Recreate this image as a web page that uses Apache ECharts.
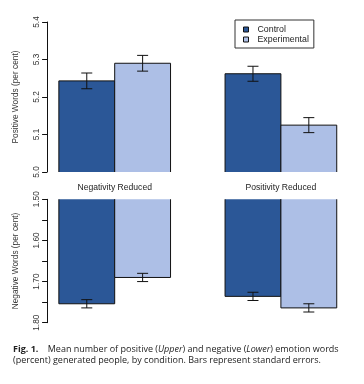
<!DOCTYPE html>
<html><head><meta charset="utf-8">
<script src="https://cdn.jsdelivr.net/npm/echarts@6/dist/echarts.min.js"></script>
<style>html,body{margin:0;padding:0;background:#fff}#c{width:364px;height:384px}</style>
</head><body><div id="c"></div>
<script>
const categories = ['Negativity Reduced', 'Positivity Reduced'];
const seriesNames = ['Control', 'Experimental'];
const posControl = [5.243, 5.262];
const posExperimental = [5.290, 5.125];
const posErr = [[0.021, 0.020], [0.021, 0.020]];
const negControl = [1.754, 1.736];
const negExperimental = [1.690, 1.764];
const negErr = [[0.010, 0.010], [0.010, 0.010]];
const posTicks = [5.0, 5.4, 0.1];
const negTicks = [1.5, 1.8, 0.05];

const colors = ['#2B5797', '#ADBFE6'];
const chart = echarts.init(document.getElementById('c'));
const font = 'Liberation Sans, Arial, sans-serif';
const GAP = 0.328;

function xCenter(api, ci, seriesIdx, y) {
  const c = api.coord([ci, y]);
  const bw = api.size([1, 0])[0];
  const groupW = bw * (1 - GAP);
  const barW = groupW / 2;
  return { x: c[0] - groupW / 2 + barW * seriesIdx + barW / 2, w: barW };
}

function barSeries(name, gi, means, seriesIdx, color, base) {
  return {
    name: name, type: 'custom', xAxisIndex: gi, yAxisIndex: gi, clip: true,
    itemStyle: { color: color, borderColor: '#111', borderWidth: 1 },
    data: means.map((m, i) => [i, m]),
    renderItem: function (params, api) {
      const ci = api.value(0), m = api.value(1);
      const p = xCenter(api, ci, seriesIdx, m);
      const yv = api.coord([ci, m])[1];
      const yb = api.coord([ci, base])[1];
      const top = Math.min(yv, yb), h = Math.abs(yb - yv);
      return { type: 'rect', shape: { x: p.x - p.w / 2, y: top, width: p.w, height: h },
        style: { fill: color, stroke: '#111', lineWidth: 1 } };
    }
  };
}

function errSeries(gi, means, errs, seriesIdx) {
  return {
    type: 'custom', xAxisIndex: gi, yAxisIndex: gi, z: 10, silent: true,
    data: means.map((m, i) => [i, m, errs[i]]),
    renderItem: function (params, api) {
      const ci = api.value(0), m = api.value(1), e = api.value(2);
      const x = xCenter(api, ci, seriesIdx, m).x;
      const y1 = api.coord([ci, m - e])[1];
      const y2 = api.coord([ci, m + e])[1];
      const cap = 5.5;
      const st = { stroke: '#111', lineWidth: 1 };
      return { type: 'group', children: [
        { type: 'line', shape: { x1: x, y1: y1, x2: x, y2: y2 }, style: st },
        { type: 'line', shape: { x1: x - cap, y1: y1, x2: x + cap, y2: y1 }, style: st },
        { type: 'line', shape: { x1: x - cap, y1: y2, x2: x + cap, y2: y2 }, style: st }
      ]};
    }
  };
}

const yCommon = {
  type: 'value', offset: -15.5,
  axisLine: { show: true, lineStyle: { color: '#111', width: 1 } },
  axisTick: { show: true, inside: false, length: 5, lineStyle: { color: '#111' } },
  splitLine: { show: false },
  nameLocation: 'middle',
  nameTextStyle: { fontFamily: font, fontSize: 8.3, color: '#333' },
  axisLabel: { rotate: 90, fontFamily: font, fontSize: 8.3, color: '#333', margin: 6 }
};

chart.setOption({
  animation: false,
  textStyle: { fontFamily: font },
  grid: [
    { left: 31.6, width: 333.6, top: 22, height: 150 },
    { left: 31.6, width: 333.6, top: 199.3, height: 123.4 }
  ],
  legend: {
    data: seriesNames, orient: 'vertical', left: 235, top: 20,
    borderColor: '#333', borderWidth: 1, padding: [5, 5, 4, 8],
    itemWidth: 5, itemHeight: 5, itemGap: 1, icon: 'rect',
    itemStyle: { borderColor: '#111', borderWidth: 1 },
    textStyle: { fontFamily: font, fontSize: 8.8, color: '#222', padding: [0, 0, 0, 4] }
  },
  xAxis: [
    { type: 'category', gridIndex: 0, data: categories, axisLine: { show: false }, axisTick: { show: false },
      axisLabel: { fontFamily: font, fontSize: 8.6, color: '#222', margin: 11 } },
    { type: 'category', gridIndex: 1, data: categories, axisLine: { show: false }, axisTick: { show: false },
      axisLabel: { show: false } }
  ],
  yAxis: [
    Object.assign({}, yCommon, { gridIndex: 0, min: posTicks[0], max: posTicks[1], interval: posTicks[2],
      name: 'Positive Words (per cent)', nameGap: 27,
      axisLabel: Object.assign({}, yCommon.axisLabel, { formatter: v => v.toFixed(1) }) }),
    Object.assign({}, yCommon, { gridIndex: 1, min: negTicks[0], max: negTicks[1], interval: negTicks[2], inverse: true,
      name: 'Negative Words (per cent)', nameGap: 27,
      axisLabel: Object.assign({}, yCommon.axisLabel, { formatter: v => (Math.round(v * 100) % 10 === 0 ? v.toFixed(2) : '') }) })
  ],
  series: [
    barSeries('Control', 0, posControl, 0, colors[0], 4.9),
    barSeries('Experimental', 0, posExperimental, 1, colors[1], 4.9),
    barSeries('Control', 1, negControl, 0, colors[0], 1.4),
    barSeries('Experimental', 1, negExperimental, 1, colors[1], 1.4),
    errSeries(0, posControl, posErr[0], 0),
    errSeries(0, posExperimental, posErr[1], 1),
    errSeries(1, negControl, negErr[0], 0),
    errSeries(1, negExperimental, negErr[1], 1)
  ],
  graphic: [{
    type: 'text', left: 13, top: 343.5,
    style: {
      text: '{b|Fig. 1.}    Mean number of positive ({i|Upper}) and negative ({i|Lower}) emotion words\n(percent) generated people, by condition. Bars represent standard errors.',
      font: '9px "Open Sans", sans-serif', fill: '#222', lineHeight: 11,
      rich: {
        b: { fontWeight: 'bold', fontSize: 9, fontFamily: 'Open Sans', fill: '#222', lineHeight: 11 },
        i: { fontStyle: 'italic', fontSize: 9, fontFamily: 'Open Sans', fill: '#222', lineHeight: 11 }
      }
    }
  }]
});
</script></body></html>
